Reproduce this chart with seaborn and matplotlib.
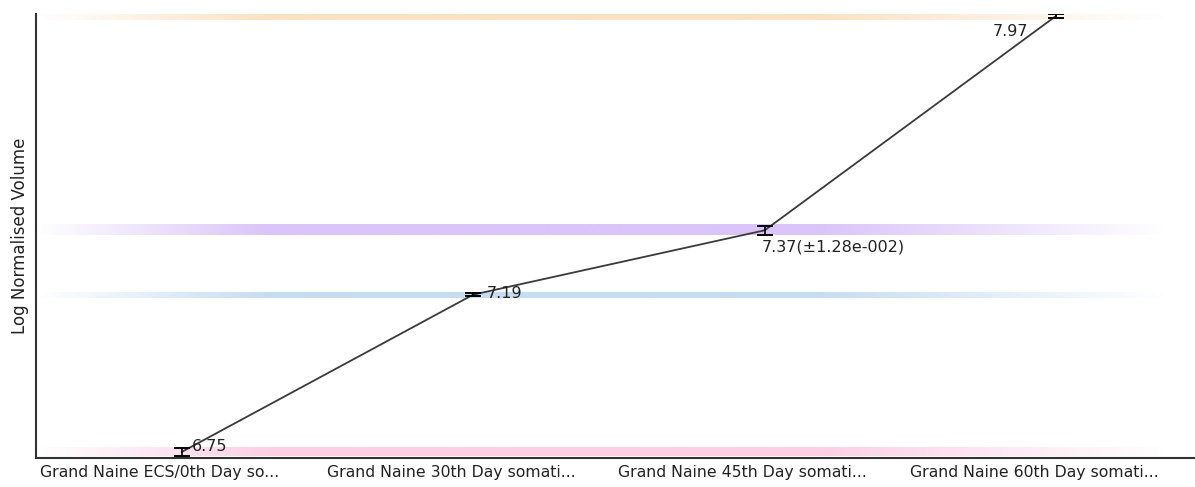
import matplotlib
matplotlib.use("Agg")
import matplotlib.pyplot as plt
from matplotlib import transforms
from matplotlib.colors import to_rgb
import seaborn as sns
import numpy as np
import pandas as pd

categories = ["Grand Naine ECS/0th Day so...", "Grand Naine 30th Day somati...",
              "Grand Naine 45th Day somati...", "Grand Naine 60th Day somati..."]
values = [6.75, 7.19, 7.37, 7.97]
errors = [0.012, 0.004, 0.0128, 0.006]
labels = ["6.75", "7.19", "7.37(\u00b11.28e-002)", "7.97"]
band_colors = ["#fcd0e2", "#c5ddf4", "#dac4f8", "#fce1c3"]
band_px = [8, 6, 10, 8]

df = pd.DataFrame({"pos": range(len(categories)), "value": values})

sns.set_style("white")
plt.rcParams["font.family"] = ["DejaVu Sans"]

fig = plt.figure(figsize=(11.95, 4.87), dpi=100)
ax_h = 444
ax = fig.add_axes([36 / 1195, 29 / 487, 1166 / 1195, ax_h / 487])

xlim = (-0.5, 3.5)
ylim = (6.733, 7.975)
px_per_unit = ax_h / (ylim[1] - ylim[0])

# soft-ended horizontal bands behind each value
nx = 500
xs = np.linspace(0, 1, nx)
alpha_x = np.clip(np.minimum(xs / 0.2, (0.97 - xs) / 0.3), 0, 1)
for v, c, h in zip(values, band_colors, band_px):
    half_h = h / 2 / px_per_unit
    rgba = np.zeros((1, nx, 4))
    rgba[..., :3] = to_rgb(c)
    rgba[0, :, 3] = alpha_x
    ax.imshow(rgba, extent=(xlim[0], xlim[1], v - half_h, v + half_h),
              aspect="auto", origin="lower", zorder=0, interpolation="bilinear")

sns.lineplot(data=df, x="pos", y="value", ax=ax, color="#3a3a3a",
             linewidth=1.3, zorder=3)
ax.errorbar(df["pos"], df["value"], yerr=errors, fmt="none", ecolor="black",
            elinewidth=1.2, capsize=6, capthick=1.4, zorder=4)

offsets = [(7, 4), (10, 1), (-2, -12), (-46, -11)]
for i, (v, t, off) in enumerate(zip(values, labels, offsets)):
    ax.annotate(t, (i, v), xytext=off, textcoords="offset points",
                fontsize=11.5, color="#222222", va="center", ha="left")

ax.set_xlim(xlim)
ax.set_ylim(ylim)
ax.set_xticks(range(len(categories)))
ax.tick_params(axis="x", length=0, pad=5)
ax.set_xticklabels(categories, fontsize=11.3, color="#222222")
shift = transforms.ScaledTranslation(-0.22, 0, fig.dpi_scale_trans)
for lab in ax.get_xticklabels():
    lab.set_transform(lab.get_transform() + shift)
ax.set_yticks([])
ax.set_xlabel("")
ax.set_ylabel("Log Normalised Volume", fontsize=12, color="#222222", labelpad=5)

sns.despine(ax=ax, top=True, right=True)
for s in ["left", "bottom"]:
    ax.spines[s].set_color("#333333")
    ax.spines[s].set_linewidth(1.5)

fig.savefig("out.png", dpi=100)
